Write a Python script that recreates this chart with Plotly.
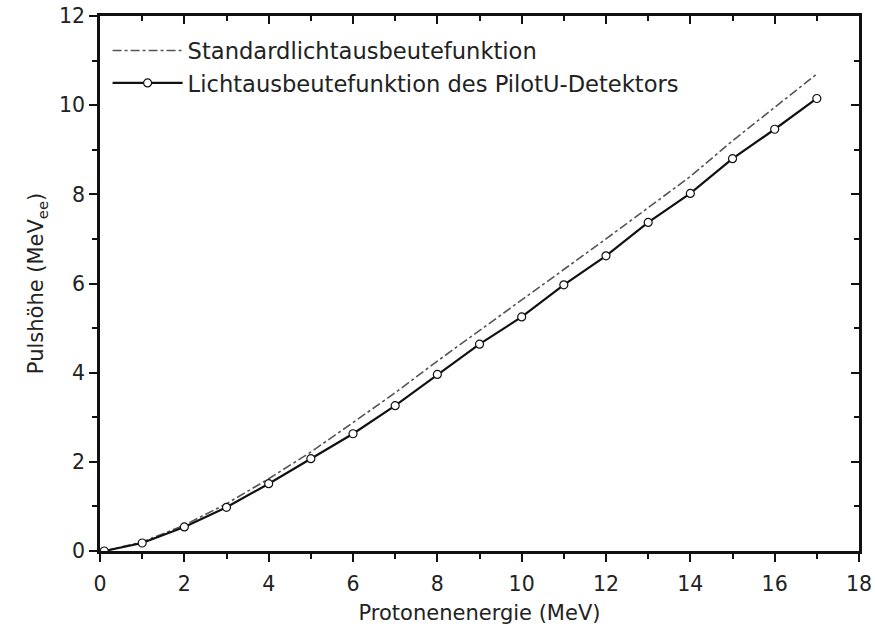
import plotly.graph_objects as go

energy = [0.1, 1, 2, 3, 4, 5, 6, 7, 8, 9, 10, 11, 12, 13, 14, 15, 16, 17]
standard = [0.0, 0.2, 0.58, 1.06, 1.62, 2.22, 2.88, 3.55, 4.26, 4.94, 5.62, 6.32, 7.0, 7.7, 8.4, 9.2, 9.95, 10.7]
pilotu = [0.0, 0.18, 0.54, 0.98, 1.51, 2.07, 2.63, 3.26, 3.96, 4.64, 5.25, 5.97, 6.62, 7.37, 8.02, 8.8, 9.46, 10.15]

name_std = "Standardlichtausbeutefunktion"
name_pil = "Lichtausbeutefunktion des PilotU-Detektors"
x_title = "Protonenenergie (MeV)"
y_title = "Pulshöhe (MeV<sub>ee</sub>)"

font_family = "DejaVu Sans, Verdana, sans-serif"

fig = go.Figure()
fig.add_trace(go.Scatter(x=energy, y=standard, mode="lines", name=name_std,
                         line=dict(color="#555555", width=1.6, dash="dashdot")))
fig.add_trace(go.Scatter(x=energy, y=pilotu, mode="lines+markers", name=name_pil,
                         line=dict(color="#111111", width=2.2),
                         marker=dict(symbol="circle", size=8, color="white",
                                     line=dict(color="#111111", width=1.2))))

axis_common = dict(showgrid=False, zeroline=False, showline=True, linecolor="#111111",
                   linewidth=2.5, tickcolor="#111111", tickwidth=2, automargin=False,
                   tickfont=dict(family=font_family, size=20.5, color="#222222"))

fig.update_layout(
    width=875, height=636,
    margin=dict(l=100, r=16, t=16, b=85),
    paper_bgcolor="white", plot_bgcolor="white",
    font=dict(family=font_family, color="#222222"),
    showlegend=True,
    legend=dict(x=0.01, y=0.975, xanchor="left", yanchor="top",
                bgcolor="rgba(0,0,0,0)", itemwidth=70,
                font=dict(family=font_family, size=22.6, color="#222222"),
                tracegroupgap=0),
    xaxis=dict(range=[0, 18], tickmode="linear", tick0=0, dtick=2,
               ticks="outside", ticklen=8, ticklabelstandoff=5,
               minor=dict(dtick=1, ticks="outside", ticklen=5, tickwidth=2, tickcolor="#111111"),
               title=dict(text=x_title, font=dict(family=font_family, size=21), standoff=10),
               **axis_common),
    yaxis=dict(range=[0, 12], tickmode="linear", tick0=0, dtick=2,
               ticks="outside", ticklen=8,
               minor=dict(dtick=1, ticks="outside", ticklen=5, tickwidth=2, tickcolor="#111111"),
               title=dict(text=y_title, font=dict(family=font_family, size=21), standoff=10),
               **axis_common),
    xaxis2=dict(range=[0, 18], overlaying="x", side="top", tickmode="linear", tick0=0, dtick=2,
                ticks="inside", ticklen=8, showticklabels=False, automargin=False,
                minor=dict(dtick=1, ticks="inside", ticklen=5, tickwidth=2, tickcolor="#111111"),
                showgrid=False, zeroline=False, showline=True, linecolor="#111111", linewidth=2.5,
                tickcolor="#111111", tickwidth=2),
    yaxis2=dict(range=[0, 12], overlaying="y", side="right", tickmode="linear", tick0=0, dtick=2,
                ticks="inside", ticklen=8, showticklabels=False, automargin=False,
                minor=dict(dtick=1, ticks="inside", ticklen=5, tickwidth=2, tickcolor="#111111"),
                showgrid=False, zeroline=False, showline=True, linecolor="#111111", linewidth=2.5,
                tickcolor="#111111", tickwidth=2),
)
# invisible trace to activate secondary axes
fig.add_trace(go.Scatter(x=[energy[0]], y=[pilotu[0]], xaxis="x2", yaxis="y2",
                         mode="markers", marker=dict(opacity=0), showlegend=False,
                         hoverinfo="skip"))

fig.write_html("out.html")
